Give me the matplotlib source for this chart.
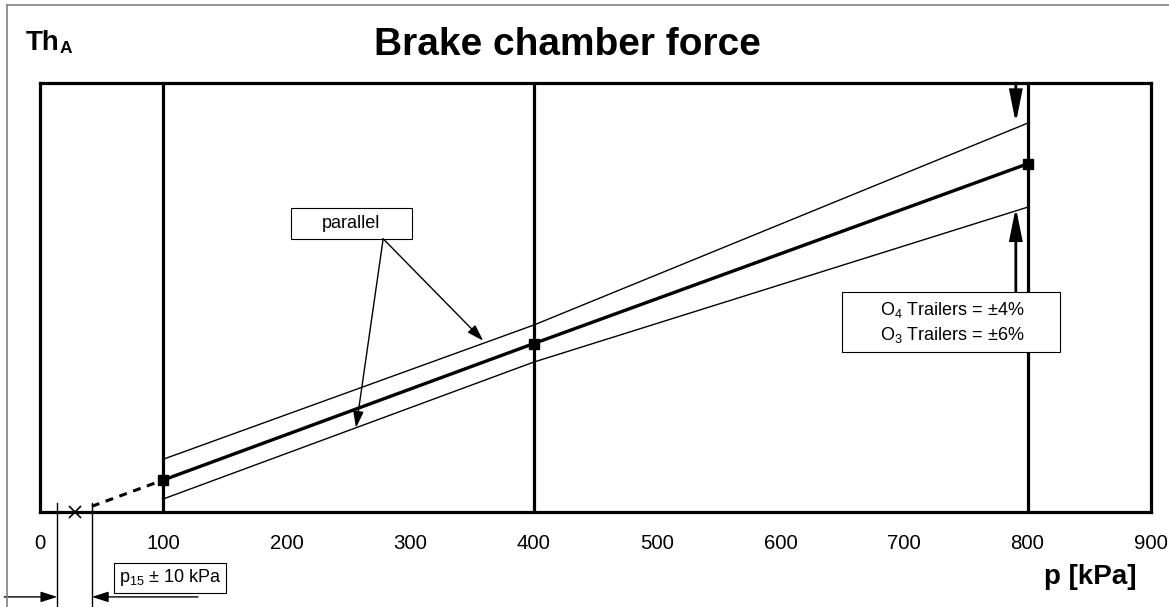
import numpy as np
import matplotlib
matplotlib.use("Agg")
from matplotlib import pyplot as plt
from matplotlib.lines import Line2D
from matplotlib.patches import Rectangle

plt.rcParams['font.family'] = ['Liberation Sans', 'DejaVu Sans']
plt.rcParams['mathtext.fontset'] = 'custom'
plt.rcParams['mathtext.rm'] = 'Liberation Sans'

# pressure [kPa] and force (arbitrary force units)
p_points = [100, 400, 800]
force_main = [71, 373, 771]
force_upper = [117, 414, 861]
force_lower = [29, 332, 675]
p15 = 28
p15_tol = 14
dash_start = 42
x_ticks = [0, 100, 200, 300, 400, 500, 600, 700, 800, 900]

W, H = 1169, 607
fig = plt.figure(figsize=(W / 100, H / 100), dpi=100)
ax = fig.add_axes([40 / W, 1 - 512 / H, 1111 / W, 429 / H])
ax.set_xlim(0, 900)
ax.set_ylim(0, 950)

for s in ax.spines.values():
    s.set_linewidth(2.3)
ax.set_yticks([])
ax.set_xticks(x_ticks)
ax.tick_params(axis='x', length=0, pad=15.5, labelsize=14.7)

# vertical reference lines
for p in p_points:
    ax.axvline(p, color='black', lw=2.3)

# tolerance lines and main line
ax.plot(p_points, force_upper, color='black', lw=1.0)
ax.plot(p_points, force_lower, color='black', lw=1.0)
ax.plot(p_points, force_main, color='black', lw=2.4, solid_capstyle='butt')
ax.plot(p_points, force_main, 's', color='black', ms=6.5, clip_on=False)

# dashed extrapolation down to p15
k = (force_main[1] - force_main[0]) / (p_points[1] - p_points[0])
ax.plot([dash_start, p_points[0]],
        [force_main[0] - k * (p_points[0] - dash_start), force_main[0]],
        color='black', lw=2.2, dashes=(2.6, 2.2))
ax.plot([p15], [0], 'x', color='black', ms=8, mew=1.2, clip_on=False)

# p15 tolerance marks below the axis
y_top = 20
y_bot = -215
y_arr = -188
for p in [p15 - p15_tol, p15 + p15_tol]:
    ax.plot([p, p], [y_top, y_bot], color='black', lw=1.0, clip_on=False)
arrow_kw = dict(arrowstyle='-|>,head_length=1.0,head_width=0.32',
                color='black', lw=1.0, shrinkA=0, shrinkB=0, mutation_scale=10)
ax.annotate('', xy=(p15 - p15_tol, y_arr), xytext=(-29, y_arr),
            arrowprops=arrow_kw, annotation_clip=False)
ax.annotate('', xy=(p15 + p15_tol, y_arr), xytext=(128, y_arr),
            arrowprops=arrow_kw, annotation_clip=False)
ax.text(105.5, -146, 'p$_{15}$ ± 10 kPa', fontsize=13, ha='center', va='center',
        bbox=dict(boxstyle='square,pad=0.25', fc='white', ec='black', lw=0.8),
        clip_on=False)

# "parallel" label with arrows
ax.add_patch(Rectangle((203.5, 605), 97.5, 68, fc='white', ec='black', lw=0.8))
ax.text(252, 639, 'parallel', fontsize=13, ha='center', va='center')
ax.annotate('', xy=(256, np.interp(256, p_points, force_lower)), xytext=(278, 605),
            arrowprops=arrow_kw)
ax.annotate('', xy=(359, np.interp(359, p_points, force_upper) + 6), xytext=(278, 605),
            arrowprops=arrow_kw)

# tolerance arrows near 800 kPa
big_arrow = dict(arrowstyle='-|>,head_length=1.9,head_width=0.38',
                 color='black', lw=2.0, shrinkA=0, shrinkB=0, mutation_scale=10,
                 joinstyle='miter')
ax.annotate('', xy=(790.5, force_upper[2]), xytext=(790.5, 950), arrowprops=big_arrow)
ax.annotate('', xy=(790.5, force_lower[2]), xytext=(790.5, 487), arrowprops=big_arrow)

ax.add_patch(Rectangle((650, 354), 176, 133, fc='white', ec='black', lw=0.8, zorder=5))
ax.text(739, 420, 'O$_4$ Trailers = ±4%\nO$_3$ Trailers = ±6%', fontsize=13,
        ha='center', va='center', linespacing=1.35, zorder=6)

# titles and labels
fig.text(567 / W, 1 - 45 / H, 'Brake chamber force', fontsize=28, fontweight='bold',
         ha='center', va='center')
fig.text(26 / W, 1 - 50 / H, 'Th', fontsize=20, fontweight='bold', va='baseline')
fig.text(60 / W, 1 - 53 / H, 'A', fontsize=12.5, fontweight='bold', va='baseline')
fig.text(1090 / W, 1 - 577 / H, 'p [kPa]', fontsize=20, fontweight='bold',
         ha='center', va='center')

# outer frame
fig.add_artist(Line2D([7 / W, 1], [1 - 5 / H, 1 - 5 / H], color='#808080', lw=1.2))
fig.add_artist(Line2D([7 / W, 7 / W], [0, 1 - 5 / H], color='#808080', lw=1.2))

fig.savefig('out.png', dpi=100)
